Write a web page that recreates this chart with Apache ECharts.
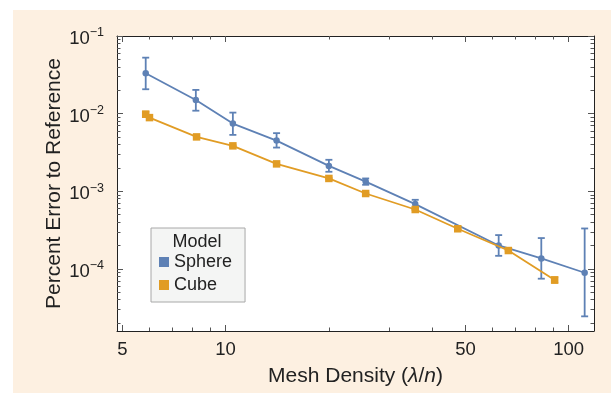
<!DOCTYPE html>
<html>
<head>
<meta charset="utf-8">
<style>
  html, body { margin: 0; padding: 0; background: #ffffff; }
  #chart { width: 611px; height: 393px; }
</style>
<script src="https://cdn.jsdelivr.net/npm/echarts@6/dist/echarts.min.js"></script>
</head>
<body>
<div id="chart"></div>
<script>
// Mesh density (lambda/n) and percent error, Sphere model
const sphereX  = [5.85, 8.19, 10.5, 14.08, 20.0, 25.6, 35.7, 62.5, 83.2, 111.3];
const sphereY  = [0.0331, 0.0150, 0.00743, 0.00449, 0.00212, 0.00133, 0.000682, 0.000200, 0.000136, 0.0000890];
const sphereLo = [0.0206, 0.0109, 0.00532, 0.00365, 0.00178, 0.00121, 0.000611, 0.000147, 0.0000746, 0.0000244];
const sphereHi = [0.0526, 0.0202, 0.0103, 0.00560, 0.00254, 0.00146, 0.000775, 0.000272, 0.000249, 0.000331];

// Cube model
const cubeX  = [5.85, 6.0, 8.23, 10.5, 14.08, 20.0, 25.6, 35.7, 47.5, 66.7, 91.0];
const cubeY  = [0.00982, 0.00888, 0.00501, 0.00384, 0.00225, 0.00146, 0.000934, 0.000581, 0.000328, 0.000172, 0.0000718];
const cubeLo = [0.00910, 0.00870, 0.00492, 0.00377, 0.00221, 0.00143, 0.000917, 0.000571, 0.000322, 0.000169, 0.0000660];
const cubeHi = [0.01060, 0.00906, 0.00510, 0.00391, 0.00229, 0.00149, 0.000951, 0.000591, 0.000334, 0.000175, 0.0000780];

// Axis ticks
const xMajorTicks = [5, 10, 50, 100];
const xMinorTicks = [6, 7, 8, 9, 20, 30, 40, 60, 70, 80, 90];
const yMajorTicks = [1e-4, 1e-3, 1e-2, 1e-1];
const yMinorTicks = [2e-5, 3e-5, 4e-5, 5e-5, 6e-5, 7e-5, 8e-5, 9e-5,
                     2e-4, 3e-4, 4e-4, 5e-4, 6e-4, 7e-4, 8e-4, 9e-4,
                     2e-3, 3e-3, 4e-3, 5e-3, 6e-3, 7e-3, 8e-3, 9e-3,
                     2e-2, 3e-2, 4e-2, 5e-2, 6e-2, 7e-2, 8e-2, 9e-2];
const xRange = [4.825, 118.5];
const yRange = [1.58e-5, 0.1];

const BLUE = '#5e81b5';
const ORANGE = '#e19c24';
const FONT = '"Liberation Sans", Arial, Helvetica, sans-serif';

const lg = Math.log10;
const xMin = lg(xRange[0]), xMax = lg(xRange[1]);
const yMin = lg(yRange[0]), yMax = lg(yRange[1]);

function pts(xs, ys) { return xs.map((x, i) => [lg(x), lg(ys[i])]); }
function bars(xs, lo, hi) { return xs.map((x, i) => [lg(x), lg(lo[i]), lg(hi[i])]); }

function yLabel(v) {
  const e = Math.round(v);
  return '{b|10}{s|' + String(e).replace('-', '\u2212') + '}';
}

function xAxisDef(position, ticks, len, showLine, showLabel) {
  return {
    type: 'value', min: xMin, max: xMax, position: position,
    axisLine: { show: showLine, lineStyle: { color: '#222', width: 1 } },
    axisTick: { show: true, inside: true, length: len, customValues: ticks.map(lg),
                lineStyle: { color: '#555', width: 1 } },
    axisLabel: showLabel ? {
      show: true, customValues: ticks.map(lg), margin: 9,
      fontFamily: FONT, fontSize: 18.5, color: '#222',
      formatter: v => String(Math.round(Math.pow(10, v)))
    } : { show: false },
    splitLine: { show: false }
  };
}
function yAxisDef(position, ticks, len, showLine, showLabel) {
  return {
    type: 'value', min: yMin, max: yMax, position: position,
    axisLine: { show: showLine, lineStyle: { color: '#222', width: 1 } },
    axisTick: { show: true, inside: true, length: len, customValues: ticks.map(lg),
                lineStyle: { color: '#555', width: 1 } },
    axisLabel: showLabel ? {
      show: true, customValues: ticks.map(lg), margin: 13,
      color: '#222', formatter: yLabel,
      rich: {
        b: { fontFamily: FONT, fontSize: 18.5, color: '#222', padding: [6, 0, 0, 0] },
        s: { fontFamily: FONT, fontSize: 12.5, color: '#222', padding: [0, 0, 6, 0] }
      }
    } : { show: false },
    splitLine: { show: false }
  };
}

const xAxes = [
  Object.assign(xAxisDef('bottom', xMajorTicks, 6, true, true), {
    name: '{t|Mesh Density (}{i|λ}{t|/}{i|n}{t|)}',
    nameLocation: 'middle', nameGap: 35, nameMoveOverlap: false,
    nameTextStyle: {
      rich: {
        t: { fontFamily: FONT, fontSize: 21, color: '#222' },
        i: { fontFamily: FONT, fontSize: 21, color: '#222', fontStyle: 'italic' }
      }
    }
  }),
  xAxisDef('bottom', xMinorTicks, 3.5, false, false),
  xAxisDef('top', xMajorTicks, 6, true, false),
  xAxisDef('top', xMinorTicks, 3.5, false, false)
];
const yAxes = [
  Object.assign(yAxisDef('left', yMajorTicks, 6, true, true), {
    name: 'Percent Error to Reference',
    nameLocation: 'middle', nameGap: 52, nameMoveOverlap: false,
    nameTextStyle: { fontFamily: FONT, fontSize: 21, color: '#222' }
  }),
  yAxisDef('left', yMinorTicks, 3.5, false, false),
  yAxisDef('right', yMajorTicks, 6, true, false),
  yAxisDef('right', yMinorTicks, 3.5, false, false)
];

function errorBarRenderer(color) {
  return function (params, api) {
    const x = api.value(0);
    const lo = api.coord([x, api.value(1)]);
    const hi = api.coord([x, api.value(2)]);
    const w = 3.5;
    const style = { stroke: color, lineWidth: 1.8 };
    return {
      type: 'group',
      children: [
        { type: 'line', shape: { x1: lo[0], y1: lo[1], x2: hi[0], y2: hi[1] }, style: style },
        { type: 'line', shape: { x1: lo[0] - w, y1: lo[1], x2: lo[0] + w, y2: lo[1] }, style: style },
        { type: 'line', shape: { x1: hi[0] - w, y1: hi[1], x2: hi[0] + w, y2: hi[1] }, style: style }
      ]
    };
  };
}

const chart = echarts.init(document.getElementById('chart'), null, { renderer: 'canvas' });
chart.setOption({
  animation: false,
  backgroundColor: '#ffffff',
  graphic: [
    { type: 'rect', z: -10, silent: true,
      shape: { x: 13, y: 10, width: 598, height: 383 },
      style: { fill: '#fdf0e1' } },
    { type: 'text', z: 100, silent: true, x: 197, y: 242,
      style: { text: 'Model', fontFamily: FONT, fontSize: 18, fill: '#222',
               align: 'center', verticalAlign: 'middle' } }
  ],
  grid: {
    left: 117, top: 36, right: 17, bottom: 62,
    show: true, backgroundColor: '#ffffff', borderWidth: 0
  },
  xAxis: xAxes,
  yAxis: yAxes,
  legend: {
    orient: 'vertical', left: 151, top: 228,
    padding: [25, 13, 8, 8], itemGap: 5,
    itemWidth: 10, itemHeight: 10, icon: 'rect',
    backgroundColor: '#f4f5f4', borderColor: '#a8a8a8', borderWidth: 1,
    textStyle: { fontFamily: FONT, fontSize: 18, color: '#222', lineHeight: 18 },
    data: ['Sphere', 'Cube']
  },
  series: [
    {
      name: 'Sphere', type: 'line', data: pts(sphereX, sphereY),
      color: BLUE, symbol: 'circle', symbolSize: 6.5,
      lineStyle: { color: BLUE, width: 1.8 }, itemStyle: { color: BLUE },
      z: 2
    },
    {
      name: 'SphereErr', type: 'custom', data: bars(sphereX, sphereLo, sphereHi),
      renderItem: errorBarRenderer(BLUE), encode: { x: 0, y: [1, 2] }, z: 2
    },
    {
      name: 'Cube', type: 'line', data: pts(cubeX, cubeY),
      color: ORANGE, symbol: 'rect', symbolSize: 7.5,
      lineStyle: { color: ORANGE, width: 1.8 }, itemStyle: { color: ORANGE },
      z: 3
    },
    {
      name: 'CubeErr', type: 'custom', data: bars(cubeX, cubeLo, cubeHi),
      renderItem: errorBarRenderer(ORANGE), encode: { x: 0, y: [1, 2] }, z: 3
    }
  ]
});
</script>
</body>
</html>
